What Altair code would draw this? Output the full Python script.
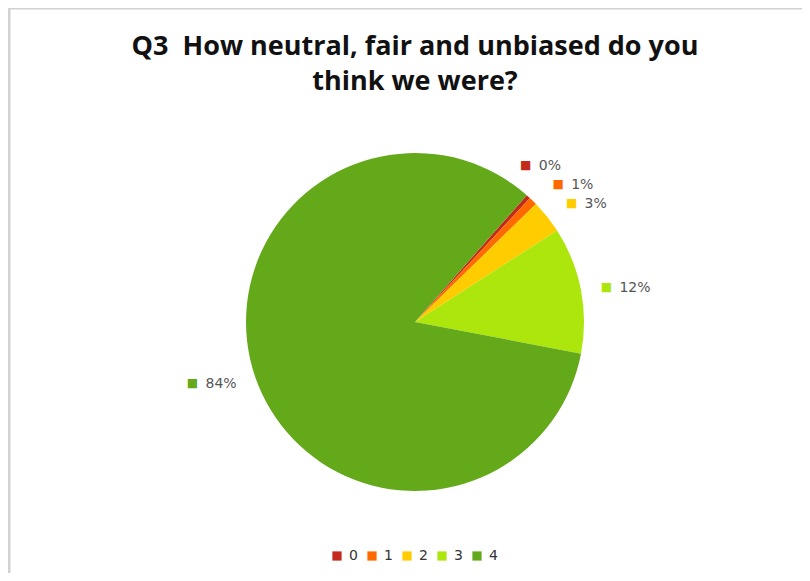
import math
import altair as alt
import pandas as pd

# ---- data ----
categories = ["0", "1", "2", "3", "4"]
shares = [0.4, 0.8, 3.2, 12.1, 83.5]
labels = ["0%", "1%", "3%", "12%", "84%"]
colors = ["#C42A1C", "#FF6A00", "#FFCC00", "#ADE60C", "#64A91A"]
title_lines = ["Q3\u00a0 How neutral, fair and unbiased do you", "think we were?"]

df = pd.DataFrame({"cat": categories, "share": shares, "label": labels,
                   "order": list(range(len(categories)))})

# ---- layout ----
W, H = 794, 565
CX, CY, R = 407, 314, 169
LABEL_R = 195
START = math.radians(41.4)
# label nudges (pixel offsets like Excel's de-overlapped data labels)
nudges = {"0": (-20, -12), "1": (7, 2), "2": (4, 2), "3": (0, 2), "4": (-38, -2)}

theta_scale = alt.Scale(domain=[0, 100], range=[START, START + 2 * math.pi])
color_scale = alt.Scale(domain=categories, range=colors)

base = alt.Chart(df).transform_window(
    cum="sum(share)", sort=[alt.SortField("order")], frame=[None, 0]
).transform_calculate(
    start="datum.cum - datum.share", mid="datum.cum - datum.share / 2"
)

pie = base.mark_arc(radius=R).encode(
    theta=alt.Theta("start:Q", scale=theta_scale),
    theta2="cum:Q",
    color=alt.Color(
        "cat:N", scale=color_scale,
        legend=alt.Legend(
            orient="none", legendX=322, legendY=541, direction="horizontal",
            title=None, symbolType="square", symbolSize=85, symbolStrokeWidth=0,
            labelFont="DejaVu Sans", labelFontSize=14, labelColor="#333333",
            labelOffset=5, columnPadding=7,
        ),
    ),
    x=alt.value(CX), y=alt.value(CY),
)

layers = [pie]
for c in categories:
    ndx, ndy = nudges[c]
    sub = base.transform_filter(alt.datum.cat == c)
    sq = sub.mark_text(radius=LABEL_R, text="■", font="DejaVu Sans", fontSize=12,
                       dx=ndx, dy=ndy, align="center", baseline="middle").encode(
        theta=alt.Theta("mid:Q", scale=theta_scale),
        color=alt.Color("cat:N", scale=color_scale, legend=None),
        x=alt.value(CX), y=alt.value(CY),
    )
    tx = sub.mark_text(radius=LABEL_R, font="DejaVu Sans", fontSize=14, color="#555555",
                       dx=ndx + 13, dy=ndy + 1, align="left", baseline="middle").encode(
        theta=alt.Theta("mid:Q", scale=theta_scale),
        text="label:N",
        x=alt.value(CX), y=alt.value(CY),
    )
    layers += [sq, tx]

one = alt.Chart(pd.DataFrame({"a": [0]}))
title = one.mark_text(text=title_lines, font="Open Sans", fontSize=27, fontWeight="bold",
                      color="#111111", lineHeight=35, align="center",
                      baseline="alphabetic").encode(x=alt.value(CX), y=alt.value(47))
frame_top = one.mark_rule(color="#d2d2d2", strokeWidth=3).encode(
    x=alt.value(0), x2=alt.value(W), y=alt.value(0))
frame_left = one.mark_rule(color="#d2d2d2", strokeWidth=3).encode(
    x=alt.value(1), y=alt.value(0), y2=alt.value(H))

chart = alt.layer(frame_top, frame_left, title, *layers).properties(
    width=W, height=H, autosize=alt.AutoSizeParams(type="none"), padding=0
).configure_view(stroke=None).resolve_scale(color="shared")

chart.save("out.html", embed_options={"renderer": "svg", "actions": False})
